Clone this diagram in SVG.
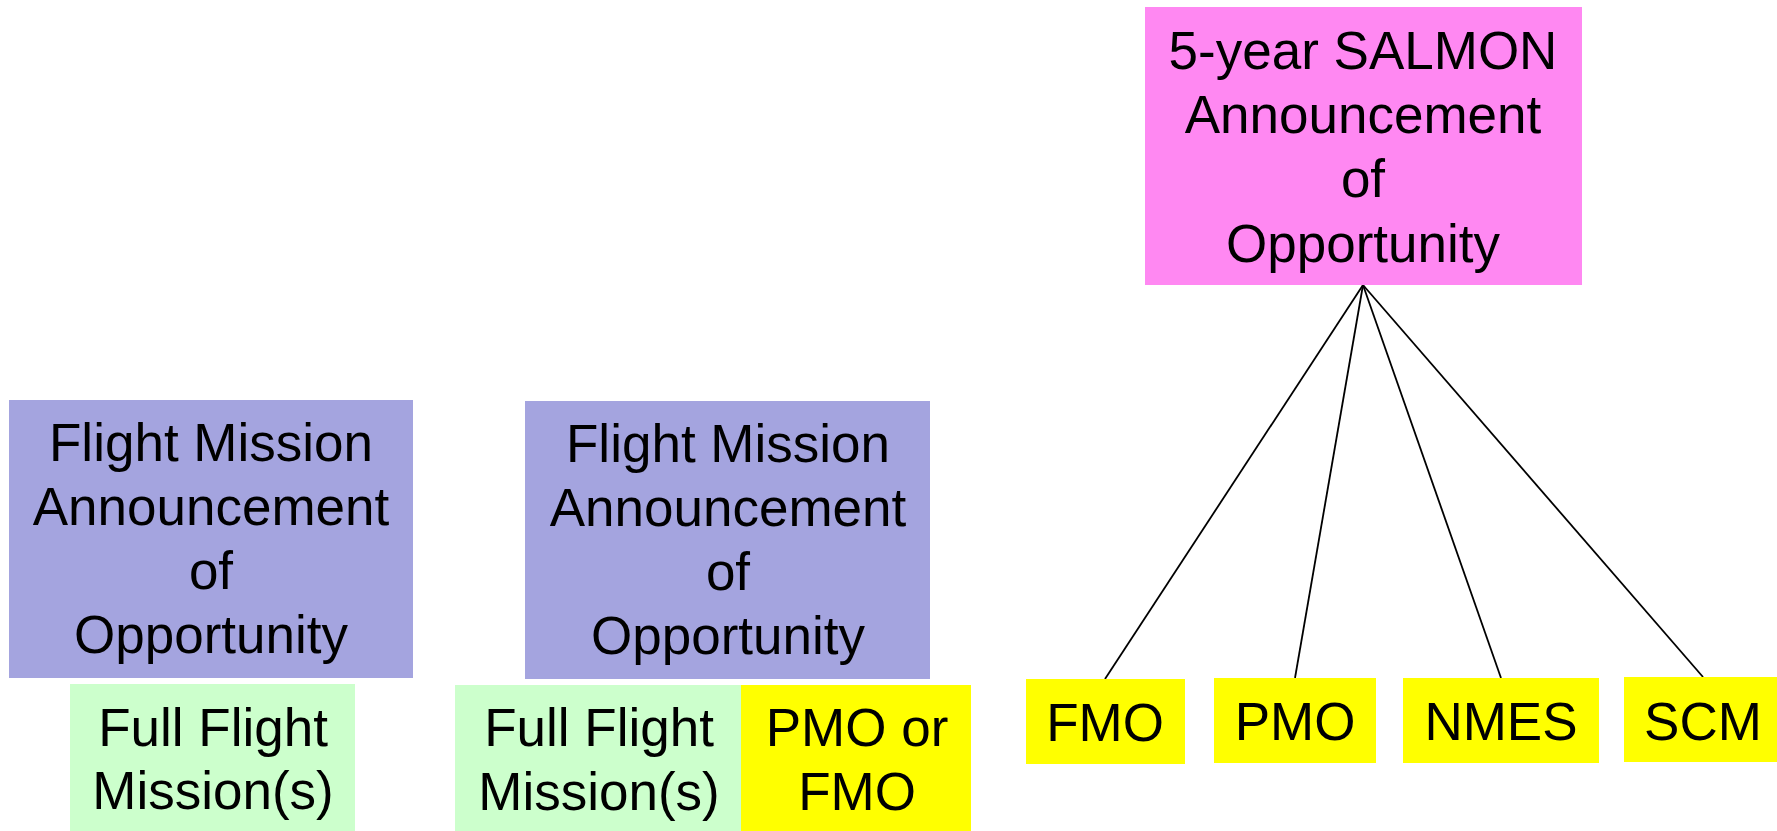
<svg xmlns="http://www.w3.org/2000/svg" width="1777" height="831" viewBox="0 0 1777 831">
<style>
text{font-family:"Liberation Sans",Arial,sans-serif;font-size:53px;fill:#000;text-anchor:middle}
.purple{fill:#A4A4DF}
.green{fill:#CCFFCC}
.yellow{fill:#FFFF00}
.pink{fill:#FF88F2}
.conn{stroke:#000;stroke-width:1.8;fill:none}
</style>
<rect width="1777" height="831" fill="#fff"/>
<g id="connectors">
<line class="conn" x1="1363" y1="285" x2="1105" y2="679"/>
<line class="conn" x1="1363" y1="285" x2="1295" y2="678"/>
<line class="conn" x1="1363" y1="285" x2="1501" y2="678"/>
<line class="conn" x1="1363" y1="285" x2="1703" y2="677"/>
</g>
<g id="fmao1">
<rect class="purple" x="9" y="400" width="404" height="278"/>
<text x="211" y="461">Flight Mission</text>
<text x="211" y="525">Announcement</text>
<text x="211" y="589">of</text>
<text x="211" y="653">Opportunity</text>
</g>
<g id="ffm1">
<rect class="green" x="70" y="684" width="285" height="147"/>
<text x="213" y="746">Full Flight</text>
<text x="213" y="809">Mission(s)</text>
</g>
<g id="fmao2">
<rect class="purple" x="525" y="401" width="405" height="278"/>
<text x="728" y="462">Flight Mission</text>
<text x="728" y="526">Announcement</text>
<text x="728" y="590">of</text>
<text x="728" y="654">Opportunity</text>
</g>
<g id="ffm2">
<rect class="green" x="455" y="685" width="286" height="146"/>
<text x="599" y="746">Full Flight</text>
<text x="599" y="810">Mission(s)</text>
</g>
<g id="pmo_or_fmo">
<rect class="yellow" x="741" y="685" width="230" height="146"/>
<text x="857" y="746">PMO or</text>
<text x="857" y="810">FMO</text>
</g>
<g id="salmon">
<rect class="pink" x="1145" y="7" width="437" height="278"/>
<text x="1363" y="69">5-year SALMON</text>
<text x="1363" y="133">Announcement</text>
<text x="1363" y="197">of</text>
<text x="1363" y="262">Opportunity</text>
</g>
<g id="fmo">
<rect class="yellow" x="1026" y="679" width="159" height="85"/>
<text x="1105" y="741">FMO</text>
</g>
<g id="pmo">
<rect class="yellow" x="1214" y="678" width="162" height="85"/>
<text x="1295" y="740">PMO</text>
</g>
<g id="nmes">
<rect class="yellow" x="1403" y="678" width="196" height="85"/>
<text x="1501" y="740">NMES</text>
</g>
<g id="scm">
<rect class="yellow" x="1624" y="677" width="153" height="85"/>
<text x="1703" y="740">SCM</text>
</g>
</svg>
